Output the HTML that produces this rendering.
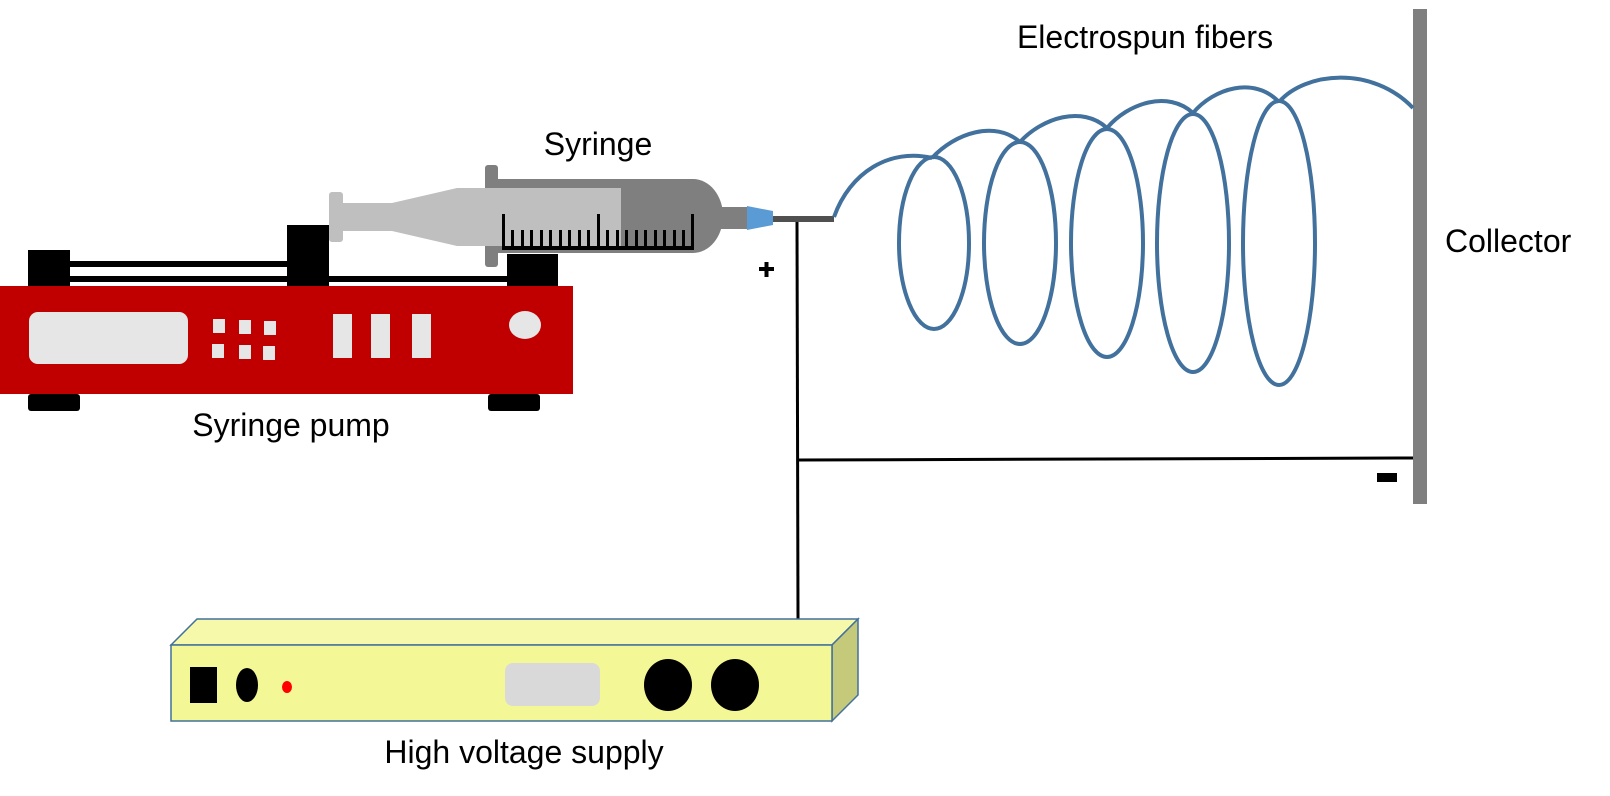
<!DOCTYPE html>
<html><head><meta charset="utf-8"><style>
html,body{margin:0;padding:0;background:#fff;}
svg{display:block;}
text{font-family:"Liberation Sans",sans-serif;fill:#000;}
</style></head><body>
<svg width="1610" height="796" viewBox="0 0 1610 796" xmlns="http://www.w3.org/2000/svg">
<!-- Labels -->
<text x="1145" y="48" font-size="32" text-anchor="middle">Electrospun fibers</text>
<text x="598" y="155" font-size="32" text-anchor="middle">Syringe</text>
<text x="1445" y="252" font-size="32">Collector</text>
<text x="291" y="436" font-size="32" text-anchor="middle">Syringe pump</text>
<text x="524" y="763" font-size="32" text-anchor="middle">High voltage supply</text>

<!-- Pump -->
<rect x="28" y="250" width="42" height="37" fill="#000"/>
<rect x="70" y="261" width="217" height="6" fill="#000"/>
<rect x="70" y="276" width="437" height="6" fill="#000"/>
<rect x="287" y="225" width="42" height="62" fill="#000"/>
<rect x="507" y="254" width="51" height="33" fill="#000"/>
<rect x="0" y="286" width="573" height="108" fill="#c00000"/>
<rect x="28" y="394" width="52" height="17" rx="3" fill="#000"/>
<rect x="488" y="394" width="52" height="17" rx="3" fill="#000"/>
<rect x="29" y="312" width="159" height="52" rx="9" fill="#e6e6e6"/>
<rect x="213" y="319" width="12" height="14" fill="#e6e6e6"/>
<rect x="239" y="320" width="12" height="14" fill="#e6e6e6"/>
<rect x="264" y="321" width="12" height="14" fill="#e6e6e6"/>
<rect x="212" y="344" width="12" height="14" fill="#e6e6e6"/>
<rect x="239" y="345" width="12" height="14" fill="#e6e6e6"/>
<rect x="263" y="346" width="12" height="14" fill="#e6e6e6"/>
<rect x="333" y="314" width="19" height="44" fill="#e6e6e6"/>
<rect x="371" y="314" width="19" height="44" fill="#e6e6e6"/>
<rect x="412" y="314" width="19" height="44" fill="#e6e6e6"/>
<ellipse cx="525" cy="325" rx="16" ry="14" fill="#e6e6e6"/>

<!-- Syringe -->
<rect x="485" y="165" width="13" height="102" rx="3" fill="#7f7f7f"/>
<path d="M498,179 H693 A30,37 0 0 1 693,253 H498 Z" fill="#7f7f7f"/>
<rect x="720" y="207" width="28" height="22" fill="#7f7f7f"/>
<polygon points="747,206 773,211 773,225 747,230" fill="#5b9bd5"/>
<rect x="773" y="216" width="61" height="6" fill="#505050"/>
<rect x="329" y="192" width="14" height="50" rx="3" fill="#bfbfbf"/>
<rect x="343" y="203" width="50" height="28" fill="#bfbfbf"/>
<polygon points="392,203 457,188 457,246 392,231" fill="#bfbfbf"/>
<rect x="457" y="188" width="164" height="58" fill="#bfbfbf"/>
<g fill="#000">
<rect x="502" y="214" width="3" height="36"/>
<rect x="597" y="214" width="3" height="36"/>
<rect x="691" y="214" width="3" height="36"/>
<rect x="502" y="246" width="192" height="4"/>
<rect x="511" y="230" width="3" height="18"/><rect x="521" y="230" width="3" height="18"/><rect x="530" y="230" width="3" height="18"/><rect x="540" y="230" width="3" height="18"/><rect x="549" y="230" width="3" height="18"/><rect x="559" y="230" width="3" height="18"/><rect x="568" y="230" width="3" height="18"/><rect x="578" y="230" width="3" height="18"/><rect x="587" y="230" width="3" height="18"/>
<rect x="606" y="230" width="3" height="18"/><rect x="616" y="230" width="3" height="18"/><rect x="625" y="230" width="3" height="18"/><rect x="635" y="230" width="3" height="18"/><rect x="644" y="230" width="3" height="18"/><rect x="654" y="230" width="3" height="18"/><rect x="663" y="230" width="3" height="18"/><rect x="673" y="230" width="3" height="18"/><rect x="682" y="230" width="3" height="18"/>
</g>
<!-- plus -->
<rect x="759" y="267" width="15" height="4" fill="#000"/>
<rect x="764.5" y="262" width="4" height="15" fill="#000"/>

<!-- Wires -->
<line x1="797" y1="222" x2="798" y2="619" stroke="#000" stroke-width="3"/>
<line x1="797" y1="460" x2="1413" y2="458" stroke="#000" stroke-width="3"/>
<rect x="1377" y="473" width="20" height="9" fill="#000"/>

<!-- Collector -->
<rect x="1413" y="9" width="14" height="495" fill="#7f7f7f"/>

<!-- Fibers -->
<g fill="none" stroke="#41719c" stroke-width="4">
<path d="M834,217 C850,172 890,148 932,158"/>
<path d="M932,158 C955,133 995,120 1020,142"/>
<path d="M1020,142 C1042,118 1082,105 1107,128"/>
<path d="M1107,128 C1128,103 1168,90 1193,113"/>
<path d="M1193,113 C1214,88 1254,76 1279,102"/>
<path d="M1279,102 C1305,72 1372,65 1413,108"/>
<ellipse cx="934" cy="243" rx="35" ry="86"/>
<ellipse cx="1020" cy="243" rx="36" ry="101"/>
<ellipse cx="1107" cy="243" rx="36" ry="114"/>
<ellipse cx="1193" cy="243" rx="36" ry="129"/>
<ellipse cx="1279" cy="243" rx="36" ry="142"/>
</g>

<!-- HV supply -->
<polygon points="171,645 197,619 858,619 832,645" fill="#f5f9a9" stroke="#41719c" stroke-width="1.5"/>
<polygon points="832,645 858,619 858,695 832,721" fill="#c5c97a" stroke="#41719c" stroke-width="1.5"/>
<rect x="171" y="645" width="661" height="76" fill="#f3f796" stroke="#41719c" stroke-width="1.5"/>
<rect x="190" y="667" width="27" height="36" fill="#000"/>
<ellipse cx="247" cy="685" rx="11" ry="17" fill="#000"/>
<ellipse cx="287" cy="687" rx="5" ry="6" fill="#ff0000"/>
<rect x="505" y="663" width="95" height="43" rx="8" fill="#d9d9d9"/>
<ellipse cx="668" cy="685" rx="24" ry="26" fill="#000"/>
<ellipse cx="735" cy="685" rx="24" ry="26" fill="#000"/>
</svg>
</body></html>
